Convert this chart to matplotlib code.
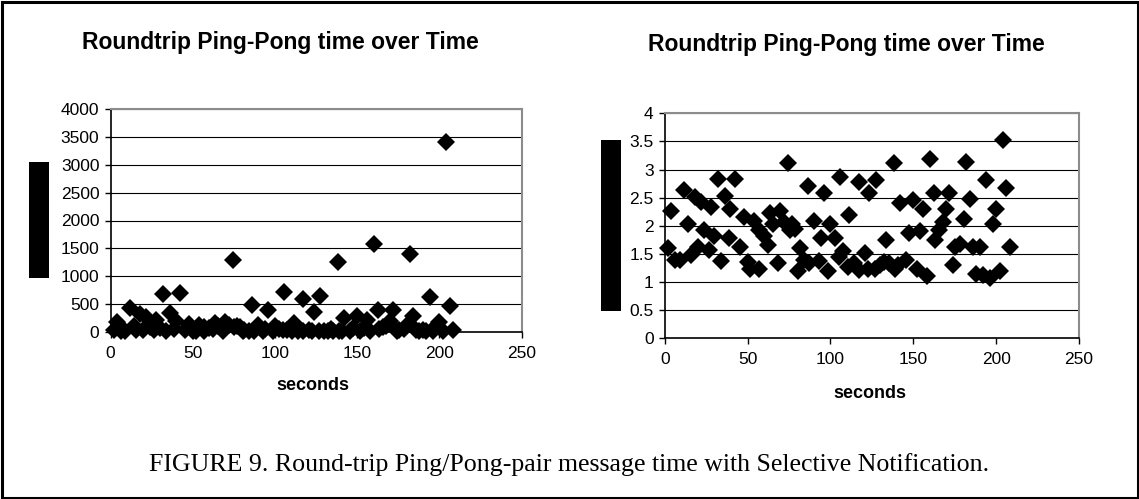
import matplotlib
matplotlib.use("Agg")
import matplotlib.pyplot as plt
from matplotlib.patches import Rectangle

# ---- data ----
seconds = [2, 3.7, 6.3, 9, 11.8, 14, 15.8, 18, 20, 21.7,
           24, 26.7, 27.8, 30, 32.2, 33.7, 36.3, 38.5, 39.6, 42.5,
           45.3, 48, 50, 51.7, 54, 56.7, 57, 60, 62.6, 63.7,
           65.5, 68.3, 69.4, 72, 74.2, 75.3, 76.8, 78.6, 80.3, 81.4,
           84, 86.3, 87.3, 90, 93, 94, 96, 98.7, 99.8, 102.7,
           104.9, 105.5, 107.5, 111.4, 110.3, 114, 117, 117.3, 120.6, 123.5,
           122.8, 126.8, 127.4, 130, 132.2, 133.8, 135.5, 138.4, 139.2, 141,
           142, 145.4, 147.5, 150, 152, 154, 156, 158, 160, 162.4,
           163.3, 165.7, 167.7, 169.7, 171.7, 174.2, 175.4, 178.2, 180.4, 181.9,
           184, 186, 187.6, 190, 191.8, 194, 196.4, 198, 200, 202.3,
           204, 206.2, 208.2]

# right chart: log10 of the round-trip time
log_time = [1.60, 2.27, 1.39, 1.40, 2.63, 2.04, 1.48, 2.52, 1.63, 2.43,
            1.93, 1.57, 2.33, 1.81, 2.83, 1.38, 2.53, 1.78, 2.29, 2.84,
            1.63, 2.15, 1.36, 1.23, 2.09, 1.23, 1.93, 1.81, 1.66, 2.23,
            2.03, 1.33, 2.27, 2.07, 3.11, 1.93, 2.03, 1.94, 1.19, 1.60,
            1.40, 2.71, 1.33, 2.09, 1.38, 1.78, 2.59, 1.19, 2.04, 1.78,
            1.44, 2.86, 1.56, 2.19, 1.27, 1.33, 1.21, 2.77, 1.52, 2.59,
            1.23, 1.23, 2.81, 1.30, 1.35, 1.75, 1.33, 3.11, 1.23, 1.30,
            2.41, 1.39, 1.87, 2.46, 1.23, 1.90, 2.29, 1.11, 3.18, 2.59,
            1.75, 1.93, 2.06, 2.29, 2.59, 1.30, 1.63, 1.68, 2.12, 3.14,
            2.47, 1.63, 1.14, 1.63, 1.13, 2.81, 1.08, 2.04, 2.29, 1.19,
            3.53, 2.67, 1.63]

# left chart: round-trip time (ms)
rt_time = [40, 186, 25, 25, 427, 110, 30, 331, 43, 269,
           85, 37, 214, 65, 676, 24, 339, 60, 195, 692,
           43, 141, 23, 17, 123, 17, 85, 65, 46, 170,
           107, 21, 186, 117, 1288, 85, 107, 87, 15, 40,
           25, 480, 21, 123, 24, 60, 389, 15, 110, 60,
           28, 724, 36, 155, 19, 21, 16, 589, 33, 360,
           17, 17, 646, 20, 22, 56, 21, 1250, 17, 20,
           257, 25, 74, 288, 17, 79, 210, 13, 1580, 389,
           56, 85, 115, 195, 389, 20, 43, 48, 132, 1400,
           295, 43, 14, 43, 13, 620, 12, 110, 180, 15,
           3400, 468, 43]

title = "Roundtrip Ping-Pong time over Time"
xlabel = "seconds"
caption = "FIGURE 9. Round-trip Ping/Pong-pair message time with Selective Notification."
xticks = [0, 50, 100, 150, 200, 250]
left_yticks = [0, 500, 1000, 1500, 2000, 2500, 3000, 3500, 4000]
right_yticks = [0, 0.5, 1, 1.5, 2, 2.5, 3, 3.5, 4]
right_yticklabels = ["0", "0.5", "1", "1.5", "2", "2.5", "3", "3.5", "4"]

plt.rcParams['font.family'] = ['Liberation Sans', 'DejaVu Sans']

W, H = 1139, 499
fig = plt.figure(figsize=(W / 100, H / 100), dpi=100)
fig.patch.set_facecolor('white')


def fx(px):
    return px / W


def fy(py):
    return 1 - py / H


def style_axes(ax, yticks, ylabels=None):
    ax.set_xlim(0, 250)
    ax.set_xticks(xticks)
    ax.set_yticks(yticks)
    if ylabels is not None:
        ax.set_yticklabels(ylabels)
    ax.set_ylim(yticks[0], yticks[-1])
    ax.grid(axis='y', color='black', linewidth=0.8)
    ax.set_axisbelow(True)
    for s in ['top', 'right']:
        ax.spines[s].set_color('#8c8c8c')
        ax.spines[s].set_linewidth(1.5)
    for s in ['left', 'bottom']:
        ax.spines[s].set_color('black')
        ax.spines[s].set_linewidth(1.2)
    ax.tick_params(axis='both', direction='out', length=4, width=1,
                   colors='black', labelsize=12.5, pad=4)
    ax.tick_params(axis='x', pad=6)


MS = 9.5

# left chart
ax1 = fig.add_axes([fx(110.5), fy(332), fx(521.6 - 110.5), (332 - 109) / H])
ax1.plot(seconds, rt_time, linestyle='none', marker='D', markersize=MS,
         color='black', markeredgewidth=0, clip_on=False, zorder=3)
style_axes(ax1, left_yticks)

# right chart
ax2 = fig.add_axes([fx(664.7), fy(338.3), fx(1079.1 - 664.7), (338.3 - 113.3) / H])
ax2.plot(seconds, log_time, linestyle='none', marker='D', markersize=MS,
         color='black', markeredgewidth=0, clip_on=False, zorder=3)
style_axes(ax2, right_yticks, right_yticklabels)

# titles and x labels
fig.text(fx(280), fy(42), title, ha='center', va='center',
         fontsize=16.5, fontweight='bold')
fig.text(fx(846), fy(45), title, ha='center', va='center',
         fontsize=16.5, fontweight='bold')
fig.text(fx(313), fy(385), xlabel, ha='center', va='center',
         fontsize=13, fontweight='bold')
fig.text(fx(870), fy(393), xlabel, ha='center', va='center',
         fontsize=13, fontweight='bold')

# redacted y-axis labels (black bars)
fig.patches.append(Rectangle((fx(29), fy(278)), fx(19.5), 116 / H,
                             transform=fig.transFigure, facecolor='black',
                             edgecolor='none'))
fig.patches.append(Rectangle((fx(600.8), fy(311)), fx(20.4), 171 / H,
                             transform=fig.transFigure, facecolor='black',
                             edgecolor='none'))

# caption
fig.text(fx(569), fy(465), caption, ha='center', va='center',
         fontsize=18.6, family=['Liberation Serif', 'DejaVu Serif'])

# outer border
fig.patches.append(Rectangle((fx(1.5), fy(497.5)), fx(W - 3), (H - 3) / H,
                             transform=fig.transFigure, facecolor='none',
                             edgecolor='black', linewidth=2.2))

fig.savefig("out.png", dpi=100, facecolor='white')
